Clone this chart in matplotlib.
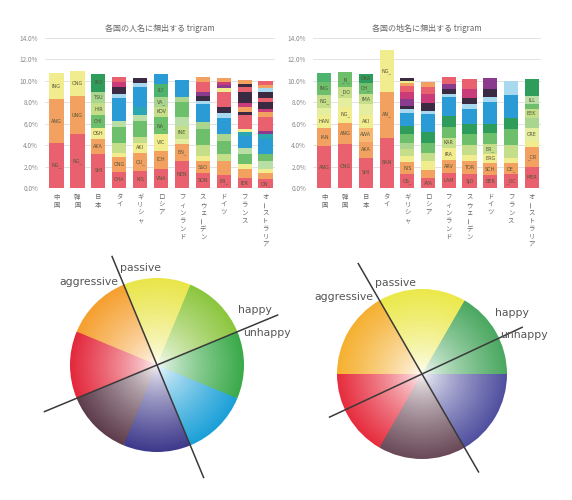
import numpy as np
import matplotlib
matplotlib.use("Agg")
import matplotlib.pyplot as plt
from matplotlib.colors import to_rgb

plt.rcParams['font.family'] = ['Noto Sans CJK JP', 'DejaVu Sans']

# ------------------------
# data
# ------------------------
countries = ['中国', '韓国', '日本', 'タイ', 'ギリシャ', 'ロシア', 'フィンランド',
             'スウェーデン', 'ドイツ', 'フランス', 'オーストラリア']

title_person = '各国の人名に頻出する trigram'
title_place = '各国の地名に頻出する trigram'

# segment heights (%), bottom -> top
person_heights = [
    [4.2, 4.1, 2.4],
    [5.0, 3.6, 2.3],
    [3.2, 1.4, 1.0, 1.2, 1.1, 1.1, 1.6],
    [1.5, 1.4, 0.4, 0.9, 1.5, 0.6, 2.1, 0.4, 0.6, 0.5, 0.5],
    [1.6, 1.7, 0.9, 0.6, 1.5, 0.5, 0.8, 1.8, 0.4, 0.5],
    [1.8, 1.7, 1.5, 1.6, 1.0, 0.9, 1.2, 0.9],
    [2.5, 1.6, 0.5, 1.2, 0.8, 1.4, 0.5, 1.6],
    [1.4, 1.1, 0.5, 1.0, 1.5, 0.7, 1.6, 0.3, 0.5, 0.4, 0.9, 0.5],
    [1.2, 1.3, 0.7, 1.2, 0.6, 1.5, 0.5, 0.6, 1.4, 0.3, 0.3, 0.3, 0.4],
    [0.9, 0.9, 0.4, 1.0, 0.5, 1.2, 0.3, 0.3, 1.3, 0.3, 0.5, 0.3, 1.1, 0.4, 0.3, 0.4],
    [0.8, 0.6, 0.4, 0.7, 0.7, 1.4, 0.4, 0.3, 1.3, 0.5, 0.3, 0.6, 0.4, 0.6, 0.3, 0.3, 0.4],
]
person_keys = [
    'r o y',
    'r o y',
    'r o y g yg pg dg',
    'r o y yg g lg b lb k m r',
    'r o y yg g lg t b lb k',
    'r o y g yg pg g2 b',
    'r o py yg lg g pg b',
    'r o y yg g pg b lb k p r o',
    'r o yg g pg b lb k r y p m o',
    'r o y g lg b t y r k o m k r k o',
    'r o y lg g b t p r o m k r k lb o r',
]
person_labels = [
    ['NG_', 'ANG', 'ING'],
    ['NG_', 'UNG', 'ONG'],
    ['SHI', 'AKA', 'OSH', 'CHI', 'HIR', 'TSU', 'IKO'],
    ['CHA', 'ONG'],
    ['KIS', 'OU_', 'AKI'],
    ['VNA', 'ICH', 'VIC', 'NA_', 'KOV', 'VA_', 'ILY'],
    ['NEN', 'EN_', '', 'INE'],
    ['SON', 'SSO'],
    ['ER_'],
    ['IER'],
    ['ON_'],
]

place_heights = [
    [3.9, 1.7, 1.2, 0.7, 1.2, 1.2, 0.8],
    [4.1, 2.0, 1.5, 0.8, 1.0, 1.4],
    [2.8, 1.5, 1.3, 1.2, 1.0, 1.0, 1.0, 0.8],
    [4.7, 4.3, 3.9],
    [1.3, 1.1, 0.6, 0.6, 0.6, 0.8, 0.8, 1.2, 0.4, 0.3, 0.6, 0.7, 0.5, 0.3, 0.2, 0.3],
    [0.9, 0.8, 0.8, 0.8, 0.9, 1.0, 1.7, 0.3, 0.7, 0.9, 0.6, 0.5],
    [1.4, 1.2, 1.1, 1.0, 1.0, 1.0, 1.8, 0.3, 0.4, 0.5, 0.7],
    [1.3, 1.2, 0.6, 0.9, 1.0, 1.0, 1.4, 0.4, 0.6, 0.8, 1.0],
    [1.2, 1.1, 0.9, 0.9, 1.0, 0.9, 2.0, 0.5, 0.7, 1.1],
    [1.3, 1.0, 0.5, 1.2, 1.5, 1.0, 2.2, 1.3],
    [2.0, 1.8, 0.6, 1.2, 0.9, 0.9, 0.4, 0.8, 1.6],
]
place_keys = [
    'r o y py yg g g2',
    'r o y py yg g',
    'r o lo y py yg g dg',
    'r o y',
    'r o y yg pg g dg b lb k p m r o y k',
    'r o y yg g dg b lb k m r o',
    'r o y yg g dg b lb k p r',
    'r o y yg g dg b lb k m r',
    'r o y yg g dg b lb k p',
    'r o y yg g dg b lb',
    'r o y py pg yg g lg dg',
]
place_labels = [
    ['ANG', 'IAN', 'HAN', '', 'NG_', 'ING'],
    ['ONG', 'ANG', 'NG_', '', '_DO', '_N_'],
    ['SHI', 'AKA', 'AWA', 'AKI', '', 'IMA', 'CH_', 'OKA'],
    ['BAN', 'AN_', 'NG_'],
    ['OS_', 'NIS'],
    ['AYA'],
    ['LAM', 'ARV', 'IRA', 'KAR'],
    ['SJO', 'TOR'],
    ['BER', 'SCH', 'ERG', 'ER_'],
    ['_OC', 'DE_'],
    ['MER', '_CR', '', 'CRE', '', 'EEK', '', 'ILL'],
]

palette = {
    'r': '#e9606f', 'o': '#f3a160', 'lo': '#f6b873', 'y': '#f1ec8e',
    'py': '#e4ee9e', 'yg': '#c4de8a', 'pg': '#a9d58f', 'lg': '#b9dea6',
    'g': '#6dbf6c', 'g2': '#4db36f', 'dg': '#2e9d5c', 't': '#2ba7b2',
    'b': '#2b9bd5', 'lb': '#a8d9ee', 'k': '#3b2b42', 'p': '#8b3b8d',
    'm': '#c93b79',
}

# colour wheels: equal wedges, counter-clockwise from start angle
wheel_left_colors = ['#8cc63f', '#e9e54a', '#f5a030', '#e3283c',
                     '#5e3c4c', '#3e3a8c', '#1ba0d8', '#3aaa4a']
wheel_right_colors = ['#4aa860', '#ebe84a', '#f5b030', '#e62d3e',
                      '#6a4a58', '#5050a0']
wheel_left_start = 22.5
wheel_right_start = 0
wheel_left_axes = [112.5, 22.5]   # direction of the two drawn axes (deg)
wheel_right_axes = [120, 25]
axis_words = ['passive', 'aggressive', 'happy', 'unhappy']

# ------------------------
# figure
# ------------------------
W, H = 572, 500
fig = plt.figure(figsize=(W / 100, H / 100), dpi=100)
fig.patch.set_facecolor('white')


def stacked(rect, heights, keys, labels, title):
    ax = fig.add_axes(rect)
    for i in range(len(countries)):
        bottom = 0
        kk = keys[i].split()
        for j, hh in enumerate(heights[i]):
            ax.bar(i, hh, bottom=bottom, width=0.68, color=palette[kk[j]], linewidth=0)
            if j < len(labels[i]) and labels[i][j]:
                ax.text(i, bottom + hh / 2, labels[i][j], ha='center', va='center',
                        fontsize=3.5, color='#55553a', family='DejaVu Sans')
            bottom += hh
        # vertical category label
        for j, ch in enumerate(countries[i]):
            ax.annotate(ch, xy=(i, 0), xytext=(0, -9 - 8 * j), textcoords='offset pixels',
                        ha='center', va='center', fontsize=4.6, color='#666666',
                        rotation=90 if ch == 'ー' else 0)
    ax.set_xlim(-0.55, 10.45)
    ax.set_ylim(0, 14)
    ax.set_yticks(np.arange(0, 15, 2))
    ax.set_yticklabels([f'{v:.1f}%' for v in np.arange(0, 15, 2)])
    ax.tick_params(axis='y', length=0, labelsize=4.6, labelcolor='#888888', pad=5)
    ax.set_xticks([])
    ax.set_axisbelow(True)
    ax.yaxis.grid(True, color='#dddddd', linewidth=0.6)
    for s in ax.spines.values():
        s.set_visible(False)
    ax.set_title(title, fontsize=5.8, color='#666666', pad=5)
    return ax


stacked([45 / W, 1 - 188 / H, 230 / W, 150 / H], person_heights, person_keys, person_labels, title_person)
stacked([313 / W, 1 - 188 / H, 228 / W, 150 / H], place_heights, place_keys, place_labels, title_place)

# ------------------------
# colour wheels
# ------------------------
axp = fig.add_axes([0, 0, 1, 1])


def wheel(center, R, colors, start, axes_deg, ext, words_xy):
    n = 60
    for k in range(n):
        f = 1 - k / n
        t = f ** 0.7
        cols = [tuple(1 - t * (1 - np.array(to_rgb(c)))) for c in colors]
        axp.pie([1] * len(colors), colors=cols, startangle=start, radius=R * f,
                center=center, counterclock=True, frame=True,
                wedgeprops=dict(linewidth=0))
    for a, (e1, e2) in zip(axes_deg, ext):
        th = np.deg2rad(a)
        xs = [center[0] - e2 * R * np.cos(th), center[0] + e1 * R * np.cos(th)]
        ys = [center[1] - e2 * R * np.sin(th), center[1] + e1 * R * np.sin(th)]
        axp.plot(xs, ys, color='#3a3a3a', linewidth=1.1)
    for w, (x, y, ha) in zip(axis_words, words_xy):
        axp.text(x, H - y, w, ha=ha, va='center', fontsize=7.8, color='#555555',
                 family='DejaVu Sans')


wheel((157, H - 365), 87, wheel_left_colors, wheel_left_start, wheel_left_axes,
      [(1.35, 1.4), (1.5, 1.4)],
      [(120, 268, 'left'), (118, 282, 'right'), (238, 310, 'left'), (243, 333, 'left')])
wheel((422, H - 374), 85, wheel_right_colors, wheel_right_start, wheel_right_axes,
      [(1.5, 1.33), (1.3, 1.2)],
      [(375, 283, 'left'), (373, 297, 'right'), (495, 313, 'left'), (500, 335, 'left')])

axp.set_xlim(0, W)
axp.set_ylim(0, H)
axp.set_axis_off()

fig.savefig('out.png', dpi=100)
